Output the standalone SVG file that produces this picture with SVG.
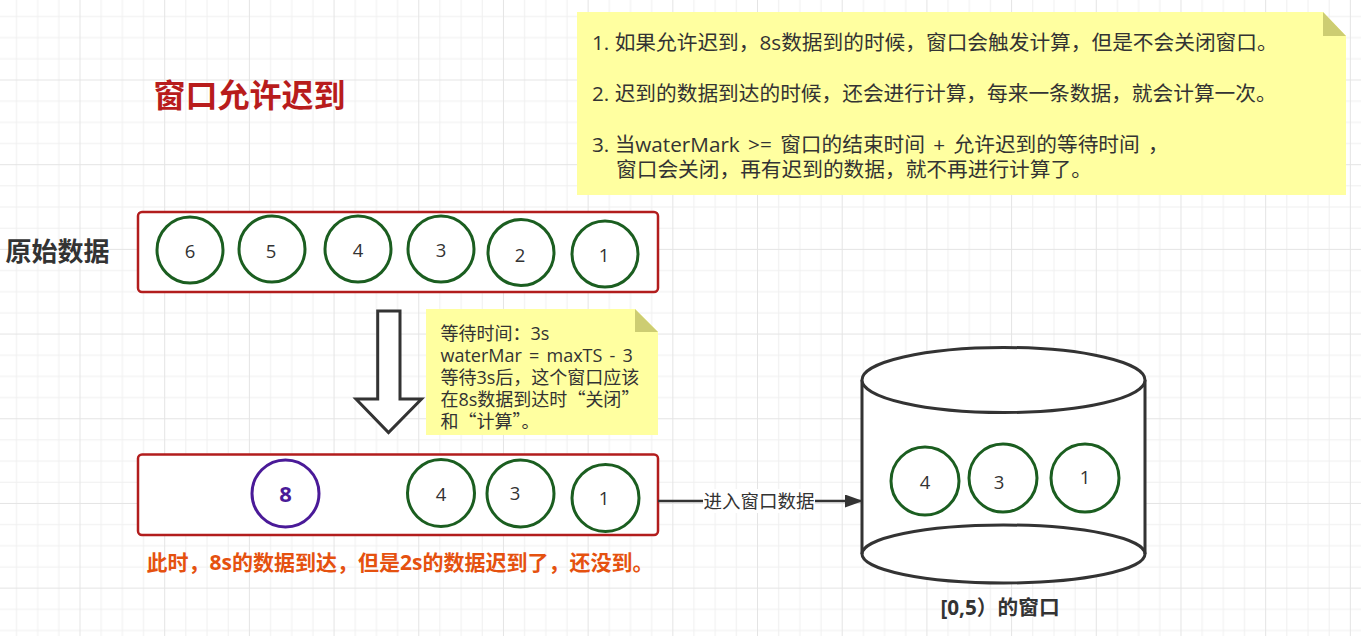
<svg xmlns="http://www.w3.org/2000/svg" width="1361" height="636" viewBox="0 0 1361 636">
<style>
.t{font-family:"Open Sans","Noto Sans CJK SC",sans-serif;fill:#333}
.cj{font-family:"Noto Sans CJK SC",sans-serif}
.c{fill:#fff;stroke:#1B5E20;stroke-width:3}
.n{font-size:18.5px;text-anchor:middle}
.box{fill:#fff;stroke:#B21D1D;stroke-width:2.5}
.note{fill:#FFFFA0}
.fold{fill:#CDCD72}
.ln{stroke:#333;stroke-width:3;fill:#fff}
</style>
<defs>
<pattern id="grid" patternUnits="userSpaceOnUse" x="-5.19" y="-5.19" width="84.69" height="84.69">
<path d="M21.67 0V84.69M42.85 0V84.69M64.02 0V84.69M0 21.67H84.69M0 42.85H84.69M0 64.02H84.69" stroke="#f0f0f0" stroke-width="1" fill="none"/>
<path d="M0.5 0V84.69M0 0.5H84.69" stroke="#e4e4e4" stroke-width="1" fill="none"/>
</pattern>
<marker id="arr" markerUnits="userSpaceOnUse" markerWidth="19" markerHeight="14" refX="18" refY="6.5" orient="auto">
<path d="M0 0L18 6.5L0 13Z" fill="#333"/>
</marker>
</defs>
<rect width="1361" height="636" fill="#fff"/>
<rect width="1361" height="636" fill="url(#grid)"/>

<g id="title"><text class="t" x="249.5" y="107" font-size="32" font-weight="bold" text-anchor="middle" style="fill:#B81C1C">窗口允许迟到</text></g>

<g id="note-top">
<path class="note" d="M577 12H1323L1346 36V195H577Z"/>
<path class="fold" d="M1323 12V36H1346Z"/>
<g class="t" font-size="20.7">
<text x="592" y="49.5">1. 如果允许迟到，8s数据到的时候，窗口会触发计算，但是不会关闭窗口。</text>
<text x="592" y="100.5">2. 迟到的数据到达的时候，还会进行计算，每来一条数据，就会计算一次。</text>
<text x="592" y="151.5">3. <tspan word-spacing="3">当waterMark &gt;= 窗口的结束时间 + 允许迟到的等待时间 ，</tspan></text>
<text x="616" y="177">窗口会关闭，再有迟到的数据，就不再进行计算了。</text>
</g>
</g>

<g id="label-raw"><text class="t" x="57.5" y="261" font-size="26" font-weight="bold" text-anchor="middle">原始数据</text></g>

<g id="raw-data">
<rect class="box" x="138" y="212" width="520" height="80" rx="4"/>
<circle class="c" cx="190" cy="250" r="33"/>
<circle class="c" cx="272" cy="249" r="33"/>
<circle class="c" cx="358" cy="249" r="33"/>
<circle class="c" cx="441" cy="249" r="33"/>
<circle class="c" cx="521" cy="252.5" r="33"/>
<circle class="c" cx="605" cy="254" r="33"/>
<g class="t n">
<text x="190" y="257.5">6</text>
<text x="271" y="257.5">5</text>
<text x="358" y="256.5">4</text>
<text x="441" y="256.5">3</text>
<text x="520" y="262">2</text>
<text x="604" y="261.5">1</text>
</g>
</g>

<g id="down-arrow"><path class="ln" d="M377.7 311H400V399H421.5L388.5 432.5L356 399H377.7Z" stroke-linejoin="miter"/></g>

<g id="note-wait">
<path class="note" d="M426 309H635L658 332V435H426Z"/>
<path class="fold" d="M635 309V332H658Z"/>
<g class="t" font-size="18">
<text x="440.5" y="340">等待时间：3s</text>
<text x="440.5" y="362" word-spacing="2.5">waterMar = maxTS - 3</text>
<text x="440.5" y="384">等待3s后，这个窗口应该</text>
<text x="440.5" y="406">在8s数据到达时<tspan class="cj">“</tspan>关闭<tspan class="cj">”</tspan></text>
<text x="440.5" y="428">和<tspan class="cj">“</tspan>计算<tspan class="cj">”</tspan>。</text>
</g>
</g>

<g id="current-data">
<rect class="box" x="138" y="454.5" width="520" height="80.5" rx="4"/>
<circle cx="285.5" cy="493.5" r="33.5" fill="#fff" stroke="#4A1A98" stroke-width="3"/>
<text class="t" x="285.5" y="501.5" font-size="22" font-weight="bold" text-anchor="middle" style="fill:#4A1A98">8</text>
<circle class="c" cx="441" cy="493" r="33.5"/>
<circle class="c" cx="520.5" cy="493.5" r="33.5"/>
<circle class="c" cx="605.5" cy="498" r="33.5"/>
<g class="t n">
<text x="441" y="500.5">4</text>
<text x="515" y="500">3</text>
<text x="604" y="505">1</text>
</g>
</g>

<g id="caption-late"><text class="t" x="400" y="569.5" font-size="21" font-weight="bold" text-anchor="middle" style="fill:#E5510F">此时，8s的数据到达，但是2s的数据迟到了，还没到。</text></g>

<g id="window">
<path class="ln" d="M862 380V554A141.5 29 0 0 0 1145 554V380"/>
<ellipse class="ln" cx="1003.5" cy="380" rx="141.5" ry="32.5"/>
<path d="M862 554A141.5 29 0 0 1 1145 554" fill="none" stroke="#333" stroke-width="3"/>
<circle class="c" cx="925" cy="481" r="34"/>
<circle class="c" cx="1003" cy="478" r="34"/>
<circle class="c" cx="1085" cy="478" r="34"/>
<g class="t n">
<text x="925" y="488.5">4</text>
<text x="999" y="488.5">3</text>
<text x="1085" y="484">1</text>
</g>
<text class="t" x="1000" y="615" font-size="20.7" font-weight="bold" text-anchor="middle">[0,5）的窗口</text>
</g>

<g id="connectors">
<path d="M658 501H863" stroke="#333" stroke-width="2.5" fill="none" marker-end="url(#arr)"/>
<rect x="703" y="489" width="112" height="24" fill="#fff"/>
<text class="t" x="759" y="508" font-size="18.5" text-anchor="middle">进入窗口数据</text>
</g>
</svg>
